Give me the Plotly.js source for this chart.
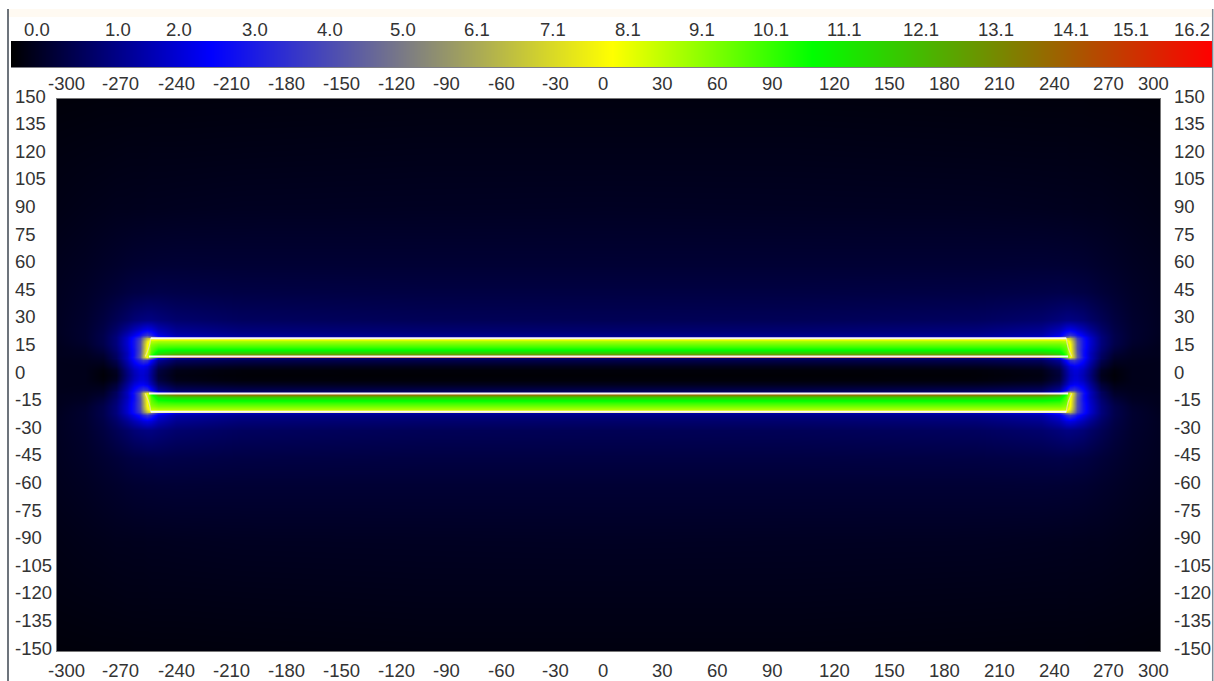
<!DOCTYPE html>
<html><head><meta charset="utf-8">
<script src="https://cdn.plot.ly/plotly-3.0.1.min.js"></script>
<style>html,body{margin:0;padding:0;background:#fff;overflow:hidden}#c{width:1214px;height:681px}</style>
</head><body><div id="c"></div><script>
// field sample columns (x, mirrored left/right) and rows (y, mirrored up/down)
const xHalf=[0,100,200,235,245,249,251,253,255,258,262,268,275,285,300];
const yHalf=[0,2.5,5,8,9.5,10,11,12,13.5,15,17,18.5,20,20.5,22,25,30,45,60,90,120,150];
// each row runs from x=0 outwards, values
const row0  =[.05,.05,.07,.18,.6,1.5,2,2.2,2.2,1.9,1.3,.3,.08,.27,.27];
const row2  =[.1,.1,.12,.25,.7,1.6,2.1,2.3,2.3,2,1.4,.38,.12,.27,.27];
const row5  =[.3,.3,.35,.5,1,1.9,2.4,2.6,2.6,2.3,1.6,.6,.22,.28,.27];
const row8  =[.8,.8,.85,1,1.6,2.8,3.7,3.9,3.5,2.8,1.9,.85,.37,.3,.28];
const row9h =[1.1,1.1,1.2,1.5,2.5,5,6.5,5.6,4.2,3,2,1,.42,.32,.28];
const row10 =[15,15,15,14.5,13,10.5,8.2,6.4,4.6,3.1,2,1,.45,.33,.29];
const row11 =[13.5,13.5,13.5,13.2,12.4,10.3,8.4,6.4,4.6,3,2,1.05,.5,.34,.3];
const row12 =[12,12,12,11.9,11.4,10,8.3,6.2,4.5,3,2,1.1,.56,.36,.3];
const row13h=[10.9,10.9,10.9,10.9,10.7,9.8,8.2,6.1,4.4,3,2.1,1.2,.65,.38,.3];
const row15 =[10.2,10.2,10.2,10.2,10.1,9.6,8.1,6,4.4,3.1,2.15,1.25,.72,.42,.3];
const row17 =[9.6,9.6,9.6,9.6,9.6,9.3,8,6,4.4,3.1,2.2,1.3,.78,.46,.31];
const row18h=[9,9,9,9,9,8.8,7.6,5.8,4.3,3.1,2.2,1.3,.8,.48,.32];
const row20 =[7.5,7.5,7.5,7.5,7.5,7.4,6.6,5.2,4,3,2.15,1.3,.8,.5,.33];
const row20h=[1.65,1.7,1.9,2.3,3.2,4.8,5.4,4.6,3.6,2.9,2.1,1.3,.8,.5,.33];
const row22 =[1.38,1.4,1.5,1.8,2.4,3.4,3.8,3.4,3,2.5,1.95,1.25,.8,.5,.34];
const row25 =[1.12,1.15,1.25,1.5,1.9,2.3,2.4,2.3,2.15,1.9,1.55,1.1,.75,.5,.35];
const row30 =[.9,.92,1,1.15,1.3,1.38,1.38,1.35,1.32,1.25,1.1,.9,.68,.48,.35];
const row45 =[.7,.7,.72,.76,.78,.76,.76,.74,.73,.72,.68,.6,.52,.42,.33];
const row60 =[.55,.55,.55,.56,.55,.54,.54,.53,.53,.52,.5,.46,.42,.36,.3];
const row90 =[.37,.36,.35,.33,.32,.32,.32,.31,.31,.31,.3,.3,.28,.26,.22];
const row120=[.26,.26,.24,.23,.23,.23,.22,.22,.22,.22,.22,.21,.2,.19,.17];
const row150=[.16,.16,.14,.13,.13,.13,.13,.13,.13,.13,.12,.12,.12,.11,.1];
const rowsHalf=[row0,row2,row5,row8,row9h,row10,row11,row12,row13h,row15,row17,row18h,row20,row20h,row22,row25,row30,row45,row60,row90,row120,row150];

// colour legend
const legendVals=[0,2.7,8.1,10.8,16.2];
const legendText=['0.0','1.0','2.0','3.0','4.0','5.0','6.1','7.1','8.1','9.1','10.1','11.1','12.1','13.1','14.1','15.1','16.2'];
const legendAt=[0,1,2,3,4,5,6.1,7.1,8.1,9.1,10.1,11.1,12.1,13.1,14.1,15.1,16.2];
const legendShift=[26,33,20,22,22,21,14,16,16,16,11,11,13,14,15,1,-20];

// axis labels
const xTicks=[-300,-270,-240,-210,-180,-150,-120,-90,-60,-30,0,30,60,90,120,150,180,210,240,270,300];
const xShift=[9,8,9,9,9,9,9,3,3,2,-6,-1,-1,-1,5,5,5,5,5,4,-7];
const yTicks=[150,135,120,105,90,75,60,45,30,15,0,-15,-30,-45,-60,-75,-90,-105,-120,-135,-150];

// conductor outlines
const edgeX=[-249,249,null,-250,250,null,-250,250,null,-249,249];
const edgeY=[20,20,null,10,10,null,-10,-10,null,-20,-20];
const capX=[-249,-250,-252,null,249,250,252,null,-252,-250,-249,null,252,250,249];
const capY=[20,15,10,null,20,15,10,null,-10,-15,-20,null,-10,-15,-20];

const cs=[[0,'#000000'],[1/6,'#0000ff'],[1/2,'#ffff00'],[2/3,'#00ff00'],[1,'#ff0000']];
const W=1214,H=681,px=p=>p/W,py=p=>1-p/H;

const xs=[...xHalf.slice(1).reverse().map(v=>-v),...xHalf];
const ys=[...yHalf.slice(1).reverse().map(v=>-v),...yHalf];
const fullRow=r=>[...r.slice(1).reverse(),...r];
const zz=[...rowsHalf.slice(1).reverse(),...rowsHalf].map(fullRow);

const font={family:'"Liberation Sans",Arial,sans-serif',size:18.5,color:'#333'};
const ann=[];
legendText.forEach((t,i)=>ann.push({text:t,x:legendAt[i],xref:'x2',y:py(29.5),yref:'paper',xshift:legendShift[i],xanchor:'center',yanchor:'middle',showarrow:false,font}));
xTicks.forEach((v,i)=>{
  [83,670].forEach(p=>ann.push({text:String(v),x:v,xref:'x',y:py(p),yref:'paper',xshift:xShift[i],xanchor:'center',yanchor:'middle',showarrow:false,font}));
});
yTicks.forEach(v=>{
  [13,1172].forEach(p=>ann.push({text:String(v),x:px(p),xref:'paper',y:v,yref:'y',yshift:3,xanchor:'left',yanchor:'middle',showarrow:false,font}));
});

const traces=[
 {type:'heatmap',x:xs,y:ys,z:zz,zmin:0,zmax:16.2,zsmooth:'best',colorscale:cs,showscale:false,hoverinfo:'skip'},
 {type:'scatter',mode:'lines',x:capX,y:capY,line:{color:'#e8e890',width:1.2,shape:'spline'},hoverinfo:'skip',showlegend:false},
 {type:'scatter',mode:'lines',x:edgeX,y:edgeY,line:{color:'#f8f8f4',width:2},hoverinfo:'skip',showlegend:false},
 {type:'heatmap',x:legendVals,y:[0,1],z:[legendVals,legendVals],xaxis:'x2',yaxis:'y2',zmin:0,zmax:16.2,zsmooth:'best',colorscale:cs,showscale:false,hoverinfo:'skip'}
];
const layout={
 width:W,height:H,margin:{l:0,r:0,t:0,b:0},paper_bgcolor:'#fff',plot_bgcolor:'#00000f',showlegend:false,
 xaxis:{domain:[px(57),px(1160)],range:[-300,300],showgrid:false,zeroline:false,showticklabels:false,ticks:'',showline:true,mirror:true,linecolor:'#777',linewidth:1},
 yaxis:{domain:[py(651),py(99)],range:[-150,150],showgrid:false,zeroline:false,showticklabels:false,ticks:'',showline:true,mirror:true,linecolor:'#777',linewidth:1},
 xaxis2:{domain:[px(11),px(1212)],range:[0,16.2],anchor:'y2',showgrid:false,zeroline:false,showticklabels:false,ticks:''},
 yaxis2:{domain:[py(67.5),py(41)],range:[0,1],anchor:'x2',showgrid:false,zeroline:false,showticklabels:false,ticks:''},
 annotations:ann,
 shapes:[
  {type:'rect',xref:'paper',yref:'paper',x0:px(8),x1:px(1212),y0:py(17),y1:py(9),fillcolor:'#fffaf2',line:{width:0},layer:'below'},
  {type:'line',xref:'paper',yref:'paper',x0:px(8),x1:px(8),y0:0,y1:py(9),line:{color:'#3c4650',width:1.5}},
  {type:'line',xref:'paper',yref:'paper',x0:px(1212.7),x1:px(1212.7),y0:0,y1:py(9),line:{color:'#7f8a96',width:1.5}}
 ]
};
Plotly.newPlot('c',traces,layout,{displayModeBar:false,staticPlot:true});
</script></body></html>
